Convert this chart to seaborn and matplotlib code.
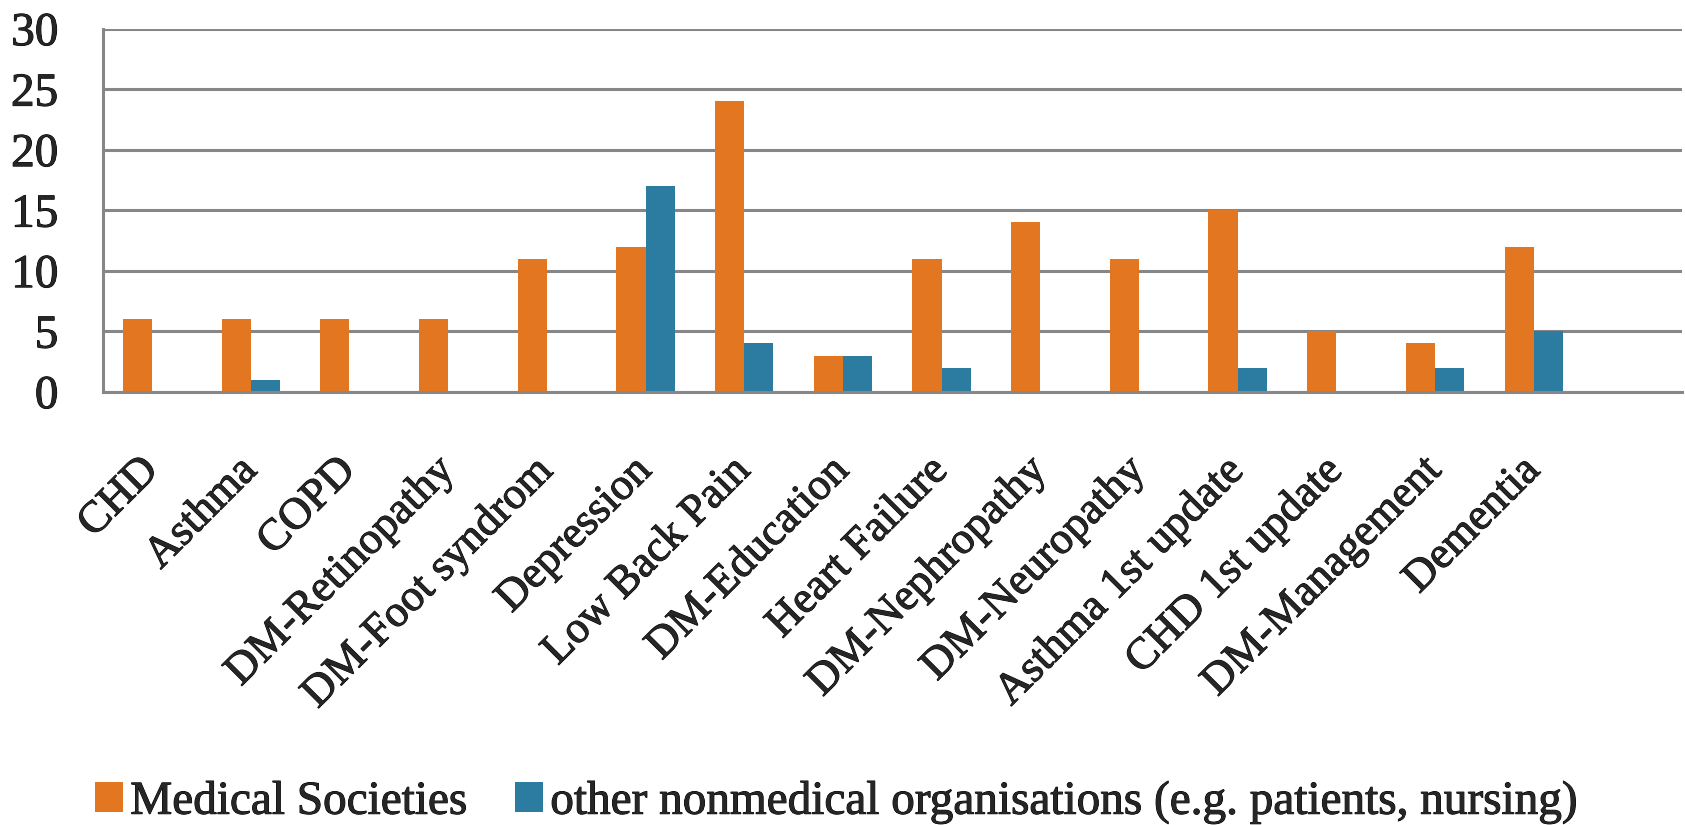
import matplotlib
matplotlib.use("Agg")
import matplotlib.pyplot as plt
import matplotlib.patheffects as pe
import seaborn as sns
import pandas as pd

# guideline topics (x axis)
categories = [
    "CHD", "Asthma", "COPD", "DM-Retinopathy", "DM-Foot syndrom",
    "Depression", "Low Back Pain", "DM-Education", "Heart Failure",
    "DM-Nephropathy", "DM-Neuropathy", "Asthma 1st update",
    "CHD 1st update", "DM-Management", "Dementia",
]
medical_societies = [6, 6, 6, 6, 11, 12, 24, 3, 11, 14, 11, 15, 5, 4, 12]
nonmedical_orgs = [0, 1, 0, 0, 0, 17, 4, 3, 2, 0, 0, 2, 0, 2, 5]

series_names = [
    "Medical Societies",
    "other nonmedical organisations (e.g. patients, nursing)",
]
colors = ["#E37620", "#2C7BA0"]
yticks = [0, 5, 10, 15, 20, 25, 30]

sns.set_theme(style="white")
plt.rcParams["font.family"] = ["Liberation Serif", "DejaVu Serif"]

df = pd.DataFrame({
    "topic": categories * 2,
    "count": medical_societies + nonmedical_orgs,
    "group": [series_names[0]] * len(categories) + [series_names[1]] * len(categories),
})

grid_col = "#878787"
# slightly heavier text, like the scanned original
heavy = [pe.withStroke(linewidth=0.7, foreground="black")]

fig, ax = plt.subplots(figsize=(16.85, 8.25), dpi=100)
fig.subplots_adjust(left=0.061, right=0.998, top=0.965, bottom=0.525)

sns.barplot(
    data=df, x="topic", y="count", hue="group",
    order=categories, hue_order=series_names,
    palette=colors, width=0.59, saturation=1,
    edgecolor="none", ax=ax, legend=True,
)

# one empty category slot at the right, like the original
ax.set_xlim(-0.5, len(categories) + 0.5)
ax.set_ylim(0, 30)
ax.set_yticks(yticks)
ax.set_yticklabels([str(t) for t in yticks], fontsize=34)

ax.yaxis.grid(True, color=grid_col, linewidth=2.2)
ax.set_axisbelow(True)
for side in ["top", "right"]:
    ax.spines[side].set_visible(False)
for side in ["left", "bottom"]:
    ax.spines[side].set_color(grid_col)
    ax.spines[side].set_linewidth(2.2)

ax.tick_params(axis="both", length=0)
ax.tick_params(axis="y", pad=32)
ax.tick_params(axis="x", pad=52)
ax.set_xticks(range(len(categories)))
ax.set_xticklabels(categories, rotation=45, ha="right", va="center",
                   rotation_mode="anchor", fontsize=32)
ax.set_xlabel("")
ax.set_ylabel("")

for lab in ax.get_xticklabels() + ax.get_yticklabels():
    lab.set_path_effects(heavy)

handles, labels = ax.get_legend_handles_labels()
ax.get_legend().remove()
leg = fig.legend(
    handles, labels, loc="lower center", bbox_to_anchor=(0.497, -0.05),
    ncol=2, frameon=False, fontsize=34,
    handlelength=0.6, handleheight=0.6, handletextpad=0.15,
    columnspacing=1.0,
)
for txt in leg.get_texts():
    txt.set_path_effects(heavy)

fig.savefig("out.png", dpi=100)
